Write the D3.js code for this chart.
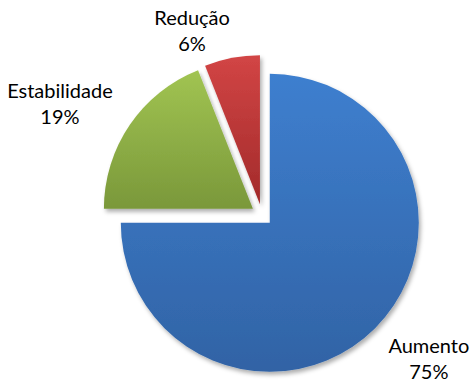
<!DOCTYPE html>
<html>
<head>
<meta charset="utf-8">
<script src="https://cdn.jsdelivr.net/npm/d3@7"></script>
<style>
  html, body { margin: 0; padding: 0; background: #fff; }
  svg { display: block; }
  text { font-family: Lato, "Open Sans", sans-serif; fill: #000; }
</style>
</head>
<body>
<svg id="chart" width="470" height="385"></svg>
<script>
// Share of responses by category
const categories = ["Aumento", "Estabilidade", "Redução"];
const values = [75, 19, 6];
const percentLabels = ["75%", "19%", "6%"];

// Fill gradients (top colour, bottom colour) per category
const gradTop = ["#3e7fcf", "#a1c452", "#d24545"];
const gradBottom = ["#3163a5", "#7a983a", "#a22a2a"];

const width = 470, height = 385;
const cx = 262, cy = 215;
const radius = 149;
const explode = 11;
const labelGap = 6;
const fontSize = 20;
const lineHeight = 26;

// Small placement nudges for the outside labels
const labelNudge = { "Aumento": [9, 5], "Estabilidade": [-12, 6], "Redução": [-1, 3] };

const svg = d3.select("#chart");
const defs = svg.append("defs");

const shadow = defs.append("filter")
  .attr("id", "shadow")
  .attr("x", "-20%").attr("y", "-20%")
  .attr("width", "140%").attr("height", "140%");
shadow.append("feDropShadow")
  .attr("dx", 2).attr("dy", 3)
  .attr("stdDeviation", 2.2)
  .attr("flood-color", "#000")
  .attr("flood-opacity", 0.32);

categories.forEach((c, i) => {
  const g = defs.append("linearGradient")
    .attr("id", "grad" + i)
    .attr("x1", 0).attr("y1", 0).attr("x2", 0).attr("y2", 1);
  g.append("stop").attr("offset", "0%").attr("stop-color", gradTop[i]);
  g.append("stop").attr("offset", "100%").attr("stop-color", gradBottom[i]);
});

const data = categories.map((c, i) => ({ name: c, value: values[i], label: percentLabels[i], i }));

const pie = d3.pie()
  .sort(null)
  .value(d => d.value)
  .startAngle(0)
  .endAngle(2 * Math.PI);

const arc = d3.arc().innerRadius(0).outerRadius(radius);

const arcs = pie(data);

const root = svg.append("g").attr("transform", `translate(${cx},${cy})`);

function direction(d) {
  const a = (d.startAngle + d.endAngle) / 2;
  return [Math.sin(a), -Math.cos(a)];
}

root.selectAll("path.slice")
  .data(arcs)
  .join("path")
  .attr("class", "slice")
  .attr("d", arc)
  .attr("fill", d => `url(#grad${d.data.i})`)
  .attr("filter", "url(#shadow)")
  .attr("transform", d => {
    const [dx, dy] = direction(d);
    return `translate(${dx * explode},${dy * explode})`;
  });

// Outside-end labels: the text block sits with its nearest corner at the slice edge
const labels = root.selectAll("g.label")
  .data(arcs)
  .join("g")
  .attr("class", "label");

labels.each(function (d) {
  const g = d3.select(this);
  const t1 = g.append("text").attr("font-size", fontSize).attr("text-anchor", "middle").text(d.data.name);
  const t2 = g.append("text").attr("font-size", fontSize).attr("text-anchor", "middle").text(d.data.label);
  const w = Math.max(t1.node().getComputedTextLength(), t2.node().getComputedTextLength());
  const h = lineHeight + fontSize;
  const [dx, dy] = direction(d);
  const dist = radius + explode + labelGap;
  const px = dx * dist, py = dy * dist;
  const nudge = labelNudge[d.data.name] || [0, 0];
  const ccx = px + (dx >= 0 ? w / 2 : -w / 2) + nudge[0];
  const ccy = py + (dy >= 0 ? h / 2 : -h / 2) + nudge[1];
  const top = ccy - h / 2;
  t1.attr("x", ccx).attr("y", top + fontSize * 0.8);
  t2.attr("x", ccx).attr("y", top + fontSize * 0.8 + lineHeight);
});
</script>
</body>
</html>
